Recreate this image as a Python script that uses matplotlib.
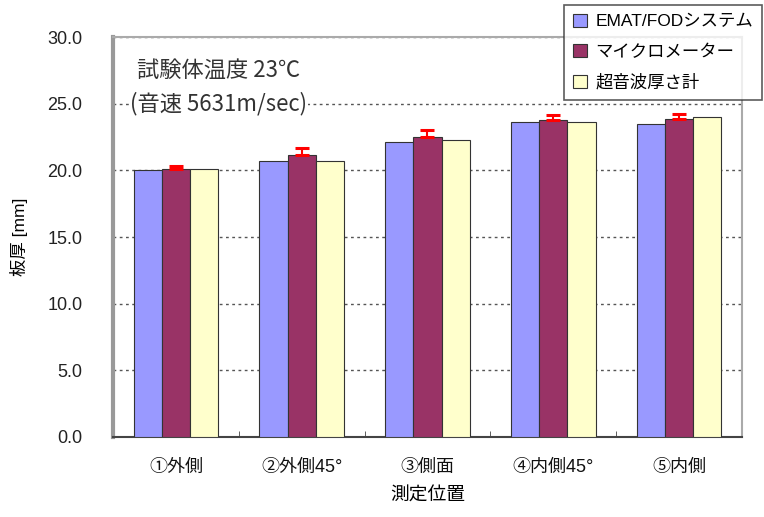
import matplotlib.pyplot as plt
import numpy as np

plt.rcParams['font.family'] = ['Liberation Sans', 'Noto Sans CJK JP', 'DejaVu Sans']

positions = ['①外側', '②外側45°', '③側面', '④内側45°', '⑤内側']
series_names = ['EMAT/FODシステム', 'マイクロメーター', '超音波厚さ計']
emat_fod = [20.0, 20.7, 22.1, 23.65, 23.5]
micrometer = [20.1, 21.15, 22.5, 23.75, 23.85]
micrometer_err = [0.2, 0.5, 0.5, 0.4, 0.35]
ultrasonic = [20.1, 20.7, 22.25, 23.65, 24.0]
colors = ['#9999FF', '#993366', '#FFFFCC']

fig = plt.figure(figsize=(7.64, 5.17), dpi=100)
ax = fig.add_axes([0.148, 0.155, 0.823, 0.773])

x = np.arange(len(positions)) + 0.5
w = 0.225
ax.bar(x - w, emat_fod, w, color=colors[0], edgecolor='#333333', linewidth=0.8,
       label=series_names[0], zorder=3)
ax.bar(x, micrometer, w, color=colors[1], edgecolor='#333333', linewidth=0.8,
       label=series_names[1], zorder=3)
ax.errorbar(x, micrometer, yerr=[np.zeros(len(x)), micrometer_err], fmt='none',
            ecolor='red', elinewidth=1.5, capsize=4.7, capthick=2.2, zorder=4)
ax.bar(x + w, ultrasonic, w, color=colors[2], edgecolor='#333333', linewidth=0.8,
       label=series_names[2], zorder=3)

ax.set_xlim(0, 5)
ax.set_ylim(0, 30)
ax.set_yticks(np.arange(0, 30.1, 5))
ax.set_yticklabels([f'{v:.1f}' for v in np.arange(0, 30.1, 5)], fontsize=13, color='#222222')
ax.yaxis.grid(True, linestyle=(0, (2, 2.5)), color='#555555', linewidth=1, zorder=0)
ax.tick_params(axis='y', length=0, pad=22)

# category labels in the middle, small ticks on the group boundaries
ax.set_xticks(x)
ax.set_xticklabels(positions, fontsize=13, color='#111111')
ax.tick_params(axis='x', length=0, pad=16)
ax.set_xticks(np.arange(1, 5), minor=True)
ax.tick_params(axis='x', which='minor', direction='in', length=4, color='#444444')

ax.spines['left'].set_color('#999999')
ax.spines['left'].set_linewidth(3)
ax.spines['top'].set_color('#aaaaaa')
ax.spines['top'].set_linewidth(1.5)
ax.spines['right'].set_color('#aaaaaa')
ax.spines['right'].set_linewidth(1.5)
ax.spines['bottom'].set_color('#444444')
ax.spines['bottom'].set_linewidth(1.5)

ax.set_ylabel('板厚 [mm]', fontsize=12.5, labelpad=14)
ax.set_xlabel('測定位置', fontsize=13.5, labelpad=8)

ax.text(0.19, 27.55, '試験体温度 23℃', fontsize=16, color='#333333', va='center',
        zorder=5, family=['Noto Sans CJK JP', 'DejaVu Sans'])
ax.text(0.135, 25.0, '(音速 5631m/sec)', fontsize=16, color='#333333', va='center',
        zorder=5, family=['Noto Sans CJK JP', 'DejaVu Sans'],
        bbox=dict(facecolor='white', edgecolor='none', pad=1))

leg = ax.legend(loc='upper right', bbox_to_anchor=(1.032, 1.081), fontsize=12.5,
                frameon=True, fancybox=False, shadow=False, handlelength=0.8,
                handleheight=0.8, handletextpad=0.5, borderpad=0.5,
                labelspacing=0.85, borderaxespad=0)
leg.get_frame().set_edgecolor('#333333')
leg.get_frame().set_linewidth(1.2)
leg.set_zorder(10)

fig.savefig('out.png', dpi=100)
